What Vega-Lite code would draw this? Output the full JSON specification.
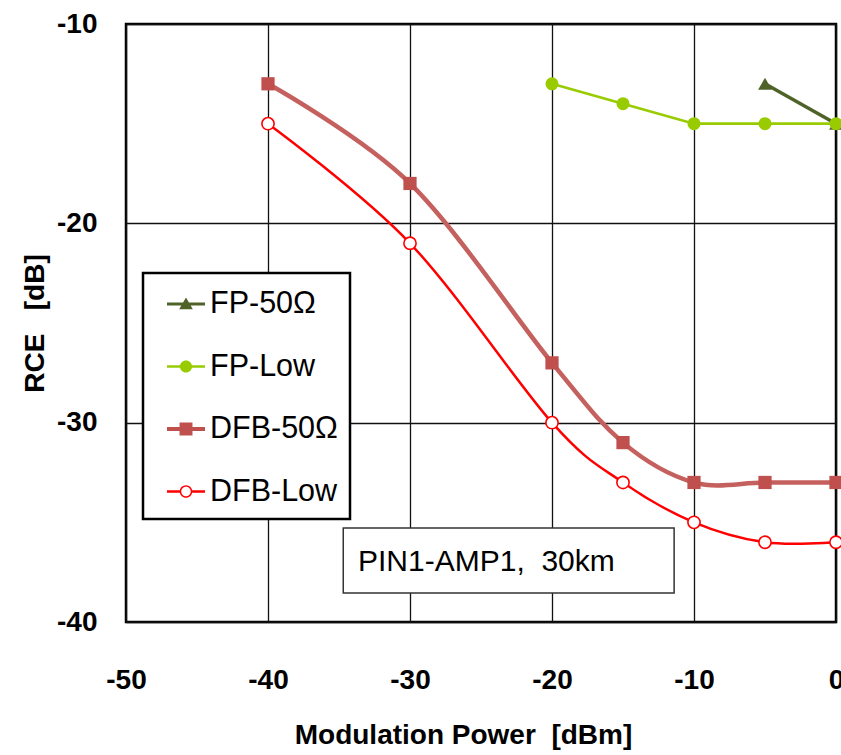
{
  "$schema": "https://vega.github.io/schema/vega-lite/v6.json",
  "width": 710,
  "height": 598,
  "autosize": {"type": "none"},
  "padding": {"left": 126, "top": 24, "right": 5, "bottom": 133},
  "background": "white",
  "config": {
    "font": "Liberation Sans",
    "view": {"stroke": "black", "strokeWidth": 2.5},
    "axis": {
      "grid": true,
      "gridColor": "#111111",
      "gridWidth": 1.3,
      "gridOpacity": 1,
      "ticks": false,
      "tickSize": 0,
      "domain": false,
      "labelFont": "Liberation Sans",
      "labelFontWeight": "bold",
      "labelFontSize": 28,
      "labelColor": "black",
      "labelFlush": false,
      "labelOverlap": false,
      "labelBound": false,
      "labelExpr": "toString(datum.value)",
      "titleFont": "Liberation Sans",
      "titleFontWeight": "bold",
      "titleColor": "black"
    }
  },
  "datasets": {
    "rce": [
      {"series": "FP-50Ω", "x": -5, "y": -13},
      {"series": "FP-50Ω", "x": 0, "y": -15},
      {"series": "FP-Low", "x": -20, "y": -13},
      {"series": "FP-Low", "x": -15, "y": -14},
      {"series": "FP-Low", "x": -10, "y": -15},
      {"series": "FP-Low", "x": -5, "y": -15},
      {"series": "FP-Low", "x": 0, "y": -15},
      {"series": "DFB-50Ω", "x": -40, "y": -13},
      {"series": "DFB-50Ω", "x": -30, "y": -18},
      {"series": "DFB-50Ω", "x": -20, "y": -27},
      {"series": "DFB-50Ω", "x": -15, "y": -31},
      {"series": "DFB-50Ω", "x": -10, "y": -33},
      {"series": "DFB-50Ω", "x": -5, "y": -33},
      {"series": "DFB-50Ω", "x": 0, "y": -33},
      {"series": "DFB-Low", "x": -40, "y": -15},
      {"series": "DFB-Low", "x": -30, "y": -21},
      {"series": "DFB-Low", "x": -20, "y": -30},
      {"series": "DFB-Low", "x": -15, "y": -33},
      {"series": "DFB-Low", "x": -10, "y": -35},
      {"series": "DFB-Low", "x": -5, "y": -36},
      {"series": "DFB-Low", "x": 0, "y": -36}
    ]
  },
  "data": {"name": "rce"},
  "layer": [
    {
      "transform": [{"filter": "datum.series === 'FP-50Ω'"}],
      "mark": {"type": "line", "color": "#4F6228", "strokeWidth": 3.5},
      "encoding": {
        "x": {
          "field": "x",
          "type": "quantitative",
          "scale": {"domain": [-50, 0], "nice": false, "zero": false},
          "axis": {
            "values": [-50, -40, -30, -20, -10, 0],
            "labelPadding": 44,
            "title": "Modulation Power\u00a0\u00a0[dBm]",
            "titleFontSize": 28,
            "titlePadding": 27,
            "titleX": 337
          }
        },
        "y": {
          "field": "y",
          "type": "quantitative",
          "scale": {"domain": [-40, -10], "nice": false, "zero": false},
          "axis": {
            "values": [-40, -30, -20, -10],
            "labelPadding": 29,
            "title": "RCE\u00a0\u00a0\u00a0[dB]",
            "titleFontSize": 28,
            "titlePadding": 7
          }
        }
      }
    },
    {
      "data": {"values": [{"label": "PIN1-AMP1,  30km"}]},
      "mark": {"type": "rect", "fill": "white", "stroke": "#333333", "strokeWidth": 1.5},
      "encoding": {
        "x": {"datum": -34.7, "type": "quantitative"},
        "x2": {"datum": -11.4},
        "y": {"datum": -35.29, "type": "quantitative"},
        "y2": {"datum": -38.55}
      }
    },
    {
      "data": {"values": [{"label": "PIN1-AMP1,\u00a0\u00a030km"}]},
      "mark": {"type": "text", "align": "left", "baseline": "alphabetic", "fontSize": 30, "color": "black", "font": "Liberation Sans"},
      "encoding": {
        "x": {"datum": -33.66, "type": "quantitative"},
        "y": {"datum": -37.45, "type": "quantitative"},
        "text": {"field": "label"}
      }
    },
    {
      "transform": [{"filter": "datum.series === 'FP-Low'"}],
      "mark": {"type": "line", "color": "#99CC00", "strokeWidth": 2.6},
      "encoding": {"x": {"field": "x", "type": "quantitative"}, "y": {"field": "y", "type": "quantitative"}}
    },
    {
      "transform": [{"filter": "datum.series === 'DFB-50Ω'"}],
      "mark": {"type": "line", "color": "#C4605D", "strokeWidth": 4.5, "interpolate": "cardinal", "tension": 0},
      "encoding": {"x": {"field": "x", "type": "quantitative"}, "y": {"field": "y", "type": "quantitative"}}
    },
    {
      "transform": [{"filter": "datum.series === 'DFB-Low'"}],
      "mark": {"type": "line", "color": "#FF0000", "strokeWidth": 2.5, "interpolate": "cardinal", "tension": 0},
      "encoding": {"x": {"field": "x", "type": "quantitative"}, "y": {"field": "y", "type": "quantitative"}}
    },
    {
      "transform": [{"filter": "datum.series === 'FP-50Ω'"}],
      "mark": {"type": "point", "shape": "triangle-up", "filled": true, "color": "#4F6228", "size": 190, "opacity": 1},
      "encoding": {"x": {"field": "x", "type": "quantitative"}, "y": {"field": "y", "type": "quantitative"}}
    },
    {
      "transform": [{"filter": "datum.series === 'FP-Low'"}],
      "mark": {"type": "point", "shape": "circle", "filled": true, "color": "#99CC00", "size": 170, "opacity": 1},
      "encoding": {"x": {"field": "x", "type": "quantitative"}, "y": {"field": "y", "type": "quantitative"}}
    },
    {
      "transform": [{"filter": "datum.series === 'DFB-50Ω'"}],
      "mark": {"type": "point", "shape": "square", "filled": true, "color": "#C0504D", "size": 175, "opacity": 1},
      "encoding": {"x": {"field": "x", "type": "quantitative"}, "y": {"field": "y", "type": "quantitative"}}
    },
    {
      "transform": [{"filter": "datum.series === 'DFB-Low'"}],
      "mark": {"type": "point", "shape": "circle", "fill": "white", "stroke": "#FF0000", "strokeWidth": 1.6, "size": 150, "opacity": 1, "fillOpacity": 1},
      "encoding": {"x": {"field": "x", "type": "quantitative"}, "y": {"field": "y", "type": "quantitative"}}
    },
    {
      "data": {"values": []},
      "mark": {"type": "point", "filled": true, "opacity": 1},
      "encoding": {
        "x": {"field": "x", "type": "quantitative"},
        "y": {"field": "y", "type": "quantitative"},
        "color": {
          "field": "series",
          "type": "nominal",
          "scale": {
            "domain": ["FP-50Ω", "FP-Low", "DFB-50Ω", "DFB-Low"],
            "range": ["#4F6228", "#99CC00", "#C0504D", "#FF0000"]
          },
          "legend": {
            "title": null,
            "orient": "none",
            "direction": "vertical",
            "legendX": 17,
            "legendY": 249,
            "padding": 12,
            "fillColor": "white",
            "strokeColor": "black",
            "symbolSize": 1444,
            "symbolOffset": 12,
            "symbolStrokeWidth": 0,
            "symbolOpacity": 1,
            "rowPadding": 27.5,
            "labelOffset": 5,
            "labelFont": "Liberation Sans",
            "labelFontSize": 30.5,
            "labelColor": "black",
            "labelLimit": 300,
            "encode": {"legend": {"update": {"strokeWidth": {"value": 2.5}}}}
          }
        },
        "shape": {
          "field": "series",
          "type": "nominal",
          "scale": {
            "domain": ["FP-50Ω", "FP-Low", "DFB-50Ω", "DFB-Low"],
            "range": [
              "M-1,-0.08H1V0.08H-1Z M0,-0.34L0.36,0.28L-0.36,0.28Z",
              "M-1,-0.07H1V0.07H-1Z M-0.32,0A0.32,0.32 0 1,1 0.32,0A0.32,0.32 0 1,1 -0.32,0Z",
              "M-1,-0.11H1V0.11H-1Z M-0.34,-0.34H0.34V0.34H-0.34Z",
              "M-1,-0.065H-0.28V0.065H-1Z M0.28,-0.065H1V0.065H0.28Z M-0.33,0A0.33,0.33 0 1,1 0.33,0A0.33,0.33 0 1,1 -0.33,0Z M-0.25,0A0.25,0.25 0 1,0 0.25,0A0.25,0.25 0 1,0 -0.25,0Z"
            ]
          },
          "legend": {
            "title": null,
            "orient": "none",
            "direction": "vertical",
            "legendX": 17,
            "legendY": 249,
            "padding": 12,
            "fillColor": "white",
            "strokeColor": "black",
            "symbolSize": 1444,
            "symbolOffset": 12,
            "symbolStrokeWidth": 0,
            "symbolOpacity": 1,
            "rowPadding": 27.5,
            "labelOffset": 5,
            "labelFont": "Liberation Sans",
            "labelFontSize": 30.5,
            "labelColor": "black",
            "labelLimit": 300,
            "encode": {"legend": {"update": {"strokeWidth": {"value": 2.5}}}}
          }
        }
      }
    }
  ]
}
